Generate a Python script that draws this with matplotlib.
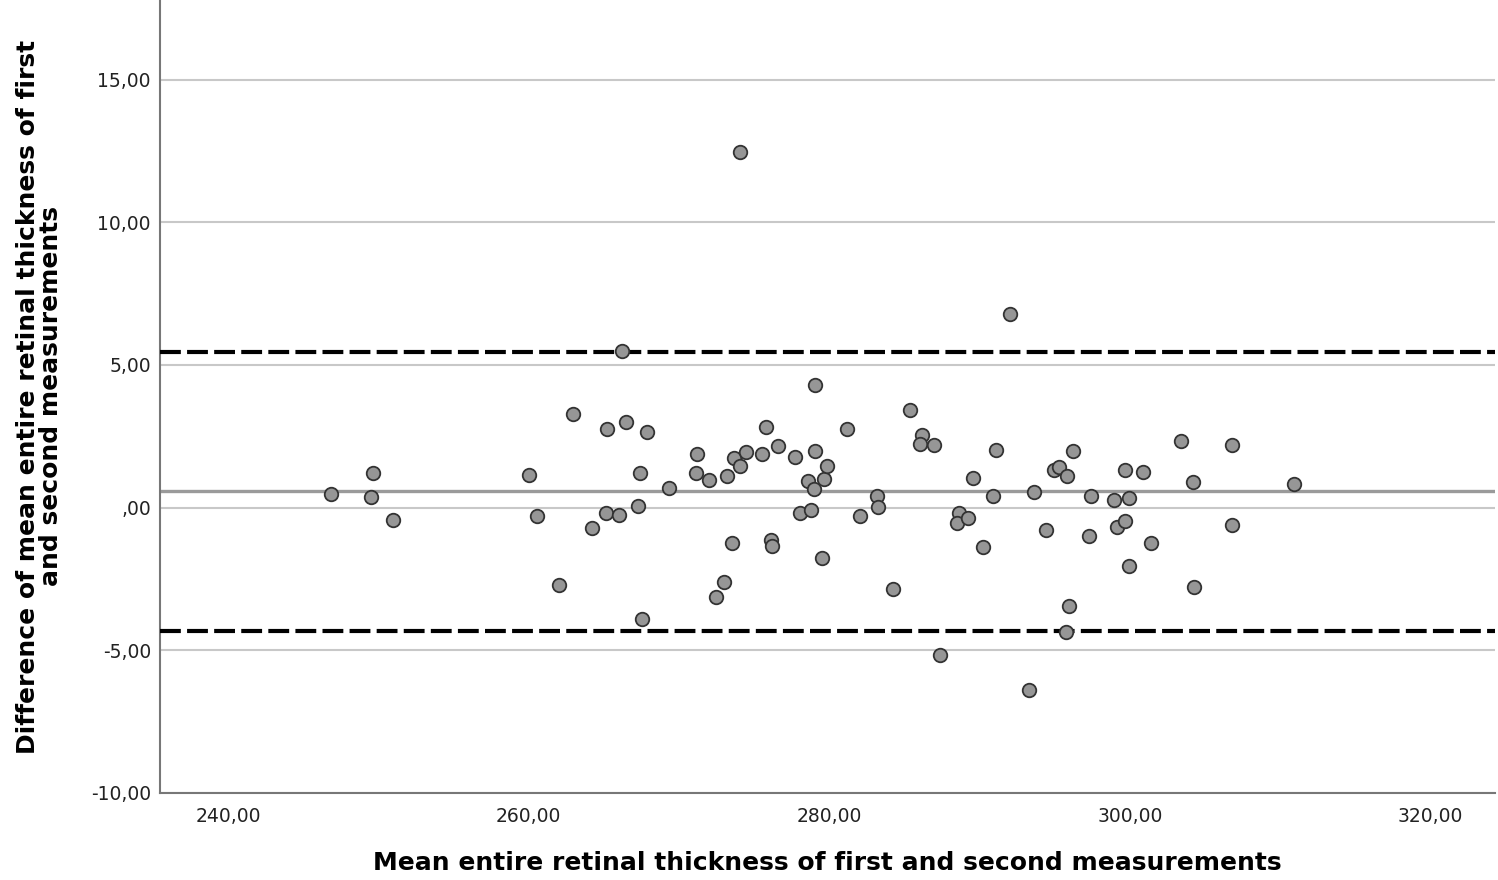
import matplotlib
matplotlib.use("Agg")
import matplotlib.pyplot as plt

# Bland-Altman: mean of the two measurements vs their difference
mean_thk = [246.86, 249.54, 249.67, 251.00, 260.04, 260.55, 262.05, 262.94, 264.21, 265.24,
            265.14, 266.02, 266.20, 266.47, 267.28, 267.40, 267.55, 267.86, 269.36, 271.18,
            271.12, 272.02, 272.47, 273.00, 273.20, 273.55, 273.68, 274.04, 274.06, 274.48,
            275.52, 275.83, 276.12, 276.23, 276.59, 277.73, 278.07, 278.58, 278.76, 279.04,
            279.04, 278.96, 279.51, 279.66, 279.86, 281.17, 282.08, 283.21, 283.28, 284.27,
            285.40, 286.20, 286.07, 286.97, 287.35, 288.61, 288.52, 289.26, 289.54, 290.25,
            290.92, 291.09, 292.00, 293.31, 293.66, 294.44, 294.99, 295.30, 295.83, 296.25,
            295.97, 295.79, 297.40, 297.28, 298.97, 299.93, 299.71, 300.90, 299.16, 299.69,
            299.93, 301.42, 303.38, 304.21, 304.29, 306.77, 306.77, 310.96]
diff_thk = [0.46, 0.36, 1.23, -0.43, 1.14, -0.29, -2.70, 3.29, -0.72, 2.75,
            -0.20, -0.25, 5.50, 3.00, 0.06, 1.23, -3.90, 2.64, 0.68, 1.89,
            1.23, 0.97, -3.12, -2.59, 1.10, -1.23, 1.75, 1.46, 12.45, 1.95,
            1.87, 2.84, -1.13, -1.33, 2.17, 1.79, -0.18, 0.95, -0.08, 4.30,
            1.99, 0.64, -1.75, 1.02, 1.45, 2.75, -0.28, 0.42, 0.01, -2.85,
            3.42, 2.54, 2.22, 2.21, -5.16, -0.20, -0.54, -0.35, 1.05, -1.39,
            0.41, 2.01, 6.80, -6.40, 0.56, -0.78, 1.31, 1.44, 1.12, 1.98,
            -3.44, -4.37, 0.42, -0.98, 0.25, 0.32, 1.32, 1.26, -0.69, -0.47,
            -2.03, -1.23, 2.33, 0.91, -2.79, 2.19, -0.60, 0.84]
mean_diff = 0.57
loa_upper, loa_lower = 5.47, -4.32

x_ticks = [240, 260, 280, 300, 320]
x_ticklabels = ["240,00", "260,00", "280,00", "300,00", "320,00"]
y_ticks = [-10, -5, 0, 5, 10, 15]
y_ticklabels = ["-10,00", "-5,00", ",00", "5,00", "10,00", "15,00"]

fig = plt.figure(figsize=(14.98, 8.8), dpi=100)
ax = fig.add_axes([0.1068, 0.0989, 0.8912, 0.9011])

for yt in y_ticks:
    ax.axhline(yt, color="#c8c8c8", lw=1.5, zorder=1)
ax.axhline(mean_diff, color="#9a9a9a", lw=2.4, zorder=2)
for v in (loa_upper, loa_lower):
    ax.axhline(v, color="black", lw=3, ls=(0, (5, 1.5)), zorder=3)

ax.scatter(mean_thk, diff_thk, s=95, c="#969696", edgecolors="#333333", linewidths=1.3, zorder=4)

ax.set_xlim(235.48, 324.3)
ax.set_ylim(-10, 17.79)
ax.set_xticks(x_ticks)
ax.set_xticklabels(x_ticklabels)
ax.set_yticks(y_ticks)
ax.set_yticklabels(y_ticklabels)
ax.tick_params(axis="both", length=0, labelsize=13.5, colors="#222222")
ax.tick_params(axis="x", pad=10)
ax.tick_params(axis="y", pad=6.5)

for s in ("top", "right"):
    ax.spines[s].set_visible(False)
for s in ("left", "bottom"):
    ax.spines[s].set_color("#777777")
    ax.spines[s].set_linewidth(1.5)

ax.set_xlabel("Mean entire retinal thickness of first and second measurements",
              fontweight="bold", fontsize=18, labelpad=18)
ax.set_ylabel("Difference of mean entire retinal thickness of first\nand second measurements",
              fontweight="bold", fontsize=18, labelpad=20, linespacing=0.95)

fig.savefig("out.png", dpi=100)
